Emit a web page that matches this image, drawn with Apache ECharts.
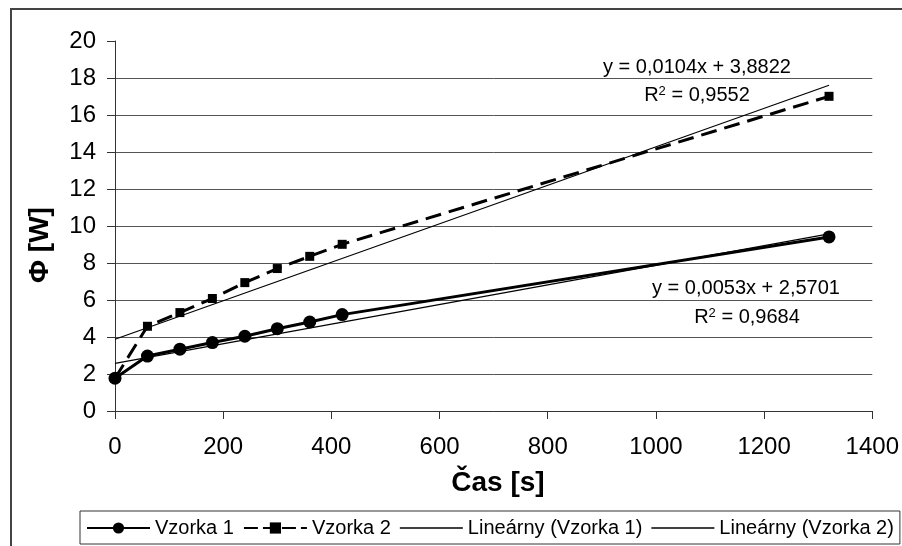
<!DOCTYPE html>
<html lang="sk">
<head>
    <meta charset="UTF-8">
    <title>Vzorka 1 / Vzorka 2</title>
    <script src="https://cdn.jsdelivr.net/npm/echarts@6/dist/echarts.min.js"></script>
    <style>
        body{
            margin: 0;
            background: #fff;
        }
    </style>
</head>
<body>
    <div id="chart" style="width: 902px;height: 546px"></div>
    <script>
        // time [s]
        var casy = [0, 60, 120, 180, 240, 300, 360, 420, 1320];
        // heat flow [W]
        var vzorka1 = [1.77, 2.97, 3.34, 3.70, 4.04, 4.45, 4.81, 5.21, 9.41];
        var vzorka2 = [1.77, 4.58, 5.32, 6.08, 6.94, 7.70, 8.36, 9.01, 17.01];
        // trend line end points
        var trend1 = [[0, 2.57], [1320, 9.57]];
        var trend2 = [[0, 3.88], [1320, 17.61]];

        var nazvy = ['Vzorka 1', 'Vzorka 2', 'Lineárny (Vzorka 1)', 'Lineárny (Vzorka 2)'];

        function pary(xs, ys){
            var out = [];
            for (let i = 0; i < xs.length; i++) {
                out.push([xs[i], ys[i]]);
            }
            return out;
        }

        var font = '"Liberation Sans", Arial, sans-serif';
        // plain thin line as legend icon for the trend lines
        var ciara = 'path://M0,0 H63 V1.6 H0 Z';

        var myChart = echarts.init(document.getElementById('chart'));
        var option = {
            animation: false,
            grid: {
                left: 115,
                right: 24,
                top: 41,
                bottom: 135
            },
            xAxis: {
                type: 'value',
                min: 0,
                max: 1400,
                interval: 200,
                axisLine: { lineStyle: { color: '#333', width: 1 } },
                axisTick: { length: 8, lineStyle: { color: '#333' } },
                axisLabel: {
                    color: '#000', fontSize: 24, fontFamily: font, margin: 24,
                    formatter: function(v){ return String(v); }
                },
                splitLine: { show: false }
            },
            yAxis: {
                type: 'value',
                min: 0,
                max: 20,
                interval: 2,
                axisLine: { show: true, lineStyle: { color: '#333', width: 1 } },
                axisTick: { show: true, length: 8, lineStyle: { color: '#333' } },
                axisLabel: { color: '#000', fontSize: 24, fontFamily: font, margin: 19 },
                splitLine: { show: true, showMaxLine: false, lineStyle: { color: '#555', width: 1 } }
            },
            legend: {
                left: 80,
                top: 511,
                data: [
                    nazvy[0],
                    { name: nazvy[1], lineStyle: { type: [14, 5] } },
                    { name: nazvy[2], icon: ciara },
                    { name: nazvy[3], icon: ciara }
                ],
                itemWidth: 63,
                itemHeight: 14,
                itemGap: 9,
                padding: [7, 6, 6, 6],
                borderColor: '#333',
                borderWidth: 1,
                textStyle: { color: '#000', fontSize: 20, fontFamily: font }
            },
            graphic: [
                {
                    type: 'rect',
                    silent: true,
                    shape: { x: 11, y: 9, width: 1200, height: 800 },
                    style: { fill: null, stroke: '#444', lineWidth: 2 }
                },
                {
                    type: 'text',
                    x: 40,
                    y: 245,
                    rotation: Math.PI / 2,
                    style: {
                        text: 'Φ [W]',
                        font: 'bold 28px ' + font,
                        fill: '#000',
                        align: 'center',
                        verticalAlign: 'middle'
                    }
                },
                {
                    type: 'text',
                    x: 498,
                    y: 483,
                    style: {
                        text: 'Čas [s]',
                        font: 'bold 28px ' + font,
                        fill: '#000',
                        align: 'center',
                        verticalAlign: 'middle'
                    }
                },
                {
                    type: 'text',
                    x: 697,
                    y: 67,
                    style: { text: 'y = 0,0104x + 3,8822', font: '20px ' + font, fill: '#000', align: 'center', verticalAlign: 'middle' }
                },
                {
                    type: 'text',
                    x: 697,
                    y: 95,
                    style: {
                        text: 'R{s|2} = 0,9552',
                        font: '20px ' + font,
                        fill: '#000',
                        align: 'center',
                        verticalAlign: 'middle',
                        rich: { s: { fontSize: 13, fontFamily: font, verticalAlign: 'top', padding: [0, 0, 8, 0] } }
                    }
                },
                {
                    type: 'text',
                    x: 746,
                    y: 288,
                    style: { text: 'y = 0,0053x + 2,5701', font: '20px ' + font, fill: '#000', align: 'center', verticalAlign: 'middle' }
                },
                {
                    type: 'text',
                    x: 747,
                    y: 317,
                    style: {
                        text: 'R{s|2} = 0,9684',
                        font: '20px ' + font,
                        fill: '#000',
                        align: 'center',
                        verticalAlign: 'middle',
                        rich: { s: { fontSize: 13, fontFamily: font, verticalAlign: 'top', padding: [0, 0, 8, 0] } }
                    }
                }
            ],
            series: [
                {
                    name: nazvy[0],
                    type: 'line',
                    data: pary(casy, vzorka1),
                    symbol: 'circle',
                    symbolSize: 13,
                    z: 4,
                    itemStyle: { color: '#000' },
                    lineStyle: { color: '#000', width: 3 }
                },
                {
                    name: nazvy[1],
                    type: 'line',
                    data: pary(casy, vzorka2),
                    symbol: 'rect',
                    symbolSize: 9,
                    z: 3,
                    itemStyle: { color: '#000' },
                    lineStyle: { color: '#000', width: 3, type: [16, 8] }
                },
                {
                    name: nazvy[2],
                    type: 'line',
                    data: trend1,
                    symbol: 'none',
                    z: 2,
                    itemStyle: { color: '#000' },
                    lineStyle: { color: '#000', width: 1.2 }
                },
                {
                    name: nazvy[3],
                    type: 'line',
                    data: trend2,
                    symbol: 'none',
                    z: 2,
                    itemStyle: { color: '#000' },
                    lineStyle: { color: '#000', width: 1.2 }
                }
            ]
        };

        myChart.setOption(option);
    </script>
</body>
</html>
